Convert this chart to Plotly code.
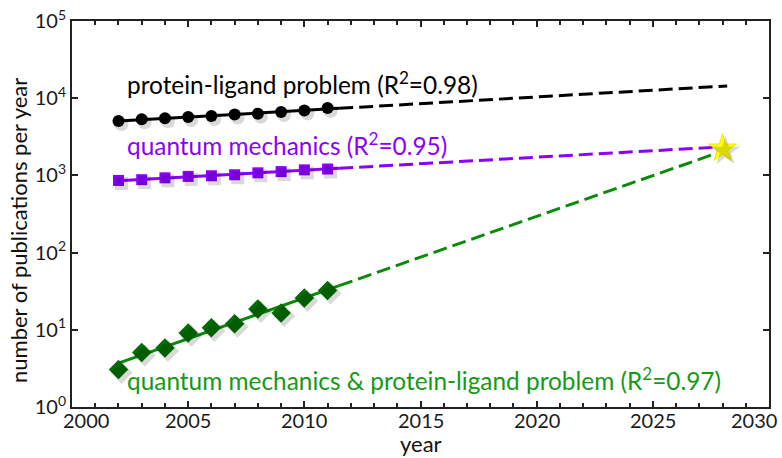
import numpy as np
import plotly.graph_objects as go

# ---- data ----
years = [2002, 2003, 2004, 2005, 2006, 2007, 2008, 2009, 2010, 2011]
pl_counts = [5070, 5330, 5490, 5710, 5880, 6130, 6300, 6620, 6950, 7450]        # protein-ligand problem
qm_counts = [860, 880, 930, 970, 990, 1020, 1080, 1120, 1180, 1210]            # quantum mechanics
qmpl_counts = [3.05, 5.1, 5.8, 9.1, 10.6, 12.0, 18.6, 16.5, 25.9, 32.4]        # QM & protein-ligand
star_year = [2028]
star_count = [2230]
fit_solid_end = 2011.5
fit_end = 2028.2

labels = {
    "pl": "protein-ligand problem (R<sup>2</sup>=0.98)",
    "qm": "quantum mechanics (R<sup>2</sup>=0.95)",
    "qmpl": "quantum mechanics &amp; protein-ligand problem (R<sup>2</sup>=0.97)",
}
x_title = "year"
y_title = "number of publications per year"
x_ticks = [2000, 2005, 2010, 2015, 2020, 2025, 2030]
x_ticktext = ["2000", "2005", "2010", "2015", "2020", "2025", "2030"]
y_tickvals = [1, 10, 100, 1000, 10000, 100000]
y_ticktext = ["10<sup>0</sup>", "10<sup>1</sup>", "10<sup>2</sup>", "10<sup>3</sup>",
              "10<sup>4</sup>", "10<sup>5</sup>"]

BLACK = "#000000"
PURPLE = "#8C00FF"
GREEN_LINE = "#0A8A0A"
GREEN_MK = "#006E00"
GREEN_TXT = "#159A15"
AXIS = "#222222"
FONT = "Lato"
LBL = 24.4

fig = go.Figure()


def fit_line(xs, ys):
    k, b = np.polyfit(np.array(xs, float), np.log10(np.array(ys, float)), 1)
    return lambda x: 10 ** (k * np.asarray(x, float) + b)


series = [
    (pl_counts, BLACK, BLACK, "circle", 12),
    (qm_counts, PURPLE, PURPLE, "square", 11),
    (qmpl_counts, GREEN_LINE, GREEN_MK, "diamond", 15),
]

# soft drop shadows (drawn on overlay axes shifted by a few pixels)
for counts, lc, mc, sym, sz in series:
    fig.add_trace(go.Scatter(x=years, y=counts, mode="markers", xaxis="x2", yaxis="y2",
                             marker=dict(symbol=sym, size=sz + 2, color="rgba(0,0,0,0.15)",
                                         line=dict(width=0)),
                             hoverinfo="skip", showlegend=False))
fig.add_trace(go.Scatter(x=star_year, y=star_count, mode="markers", xaxis="x2", yaxis="y2",
                         marker=dict(symbol="star", size=22, color="rgba(0,0,0,0.15)",
                                     line=dict(width=0)),
                         hoverinfo="skip", showlegend=False))

for counts, lc, mc, sym, sz in series:
    f = fit_line(years, counts)
    xs_solid = [years[0], fit_solid_end]
    xs_dash = [fit_solid_end, fit_end]
    fig.add_trace(go.Scatter(x=xs_solid, y=f(xs_solid), mode="lines",
                             line=dict(color=lc, width=3), showlegend=False))
    fig.add_trace(go.Scatter(x=xs_dash, y=f(xs_dash), mode="lines",
                             line=dict(color=lc, width=3, dash="14px,6px"), showlegend=False))
    fig.add_trace(go.Scatter(x=years, y=counts, mode="markers",
                             marker=dict(symbol=sym, size=sz, color=mc, line=dict(width=0)),
                             showlegend=False))

fig.add_trace(go.Scatter(x=star_year, y=star_count, mode="markers",
                         marker=dict(symbol="star", size=21, color="#FFFF00",
                                     line=dict(width=1, color="#EDED00")),
                         showlegend=False))

# series labels
fig.add_annotation(x=2002.3, y=4.2, xref="x", yref="y", text=labels["pl"], showarrow=False,
                   xanchor="left", yanchor="middle", font=dict(family=FONT, size=LBL, color=BLACK))
fig.add_annotation(x=2002.3, y=3.41, xref="x", yref="y", text=labels["qm"], showarrow=False,
                   xanchor="left", yanchor="middle", font=dict(family=FONT, size=LBL, color=PURPLE))
fig.add_annotation(x=2002.26, y=0.36, xref="x", yref="y", text=labels["qmpl"], showarrow=False,
                   xanchor="left", yanchor="middle", font=dict(family=FONT, size=LBL, color=GREEN_TXT))

# x tick labels (end labels nudged inward as in the reference)
shifts = {0: 14, len(x_ticks) - 1: -15}
for i, (v, t) in enumerate(zip(x_ticks, x_ticktext)):
    fig.add_annotation(x=v, y=0, xref="x", yref="paper", text=t, showarrow=False,
                       xanchor="center", yanchor="middle", xshift=shifts.get(i, 0), yshift=-13,
                       font=dict(family=FONT, size=20, color="#1a1a1a"))

# axis titles
fig.add_annotation(x=2015, y=0, xref="x", yref="paper", text=x_title, showarrow=False,
                   xanchor="center", yanchor="middle", yshift=-36,
                   font=dict(family=FONT, size=22, color="#111"))
fig.add_annotation(x=0, y=0.456, xref="paper", yref="paper", text=y_title, showarrow=False,
                   textangle=-90, xanchor="center", yanchor="middle", xshift=-53,
                   font=dict(family=FONT, size=22, color="#111"))

axis_common = dict(showline=True, linecolor=AXIS, linewidth=2, mirror="ticks",
                   ticks="inside", tickcolor=AXIS, tickwidth=2, showgrid=False, zeroline=False,
                   automargin=False)

fig.update_layout(
    width=782, height=458,
    margin=dict(l=72, r=13, t=21, b=51),
    paper_bgcolor="white", plot_bgcolor="white",
    font=dict(family=FONT),
    xaxis=dict(range=[2000, 2030], tickvals=x_ticks, ticklen=6, showticklabels=False,
               minor=dict(dtick=1, ticks="inside", ticklen=4, tickcolor=AXIS, tickwidth=1.5),
               **axis_common),
    yaxis=dict(type="log", range=[0, 5], tickvals=y_tickvals, ticktext=y_ticktext, ticklen=6,
               tickfont=dict(family=FONT, size=20, color="#1a1a1a"),
               **axis_common),
    xaxis2=dict(range=[2000 - 3 / 23.25, 2030 - 3 / 23.25], overlaying="x", visible=False),
    yaxis2=dict(type="log", range=[3 / 77.2, 5 + 3 / 77.2], overlaying="y", visible=False),
)

fig.write_html("out.html", config={"displayModeBar": False},
               post_script="document.body.style.margin='0';document.body.style.overflow='hidden';")
